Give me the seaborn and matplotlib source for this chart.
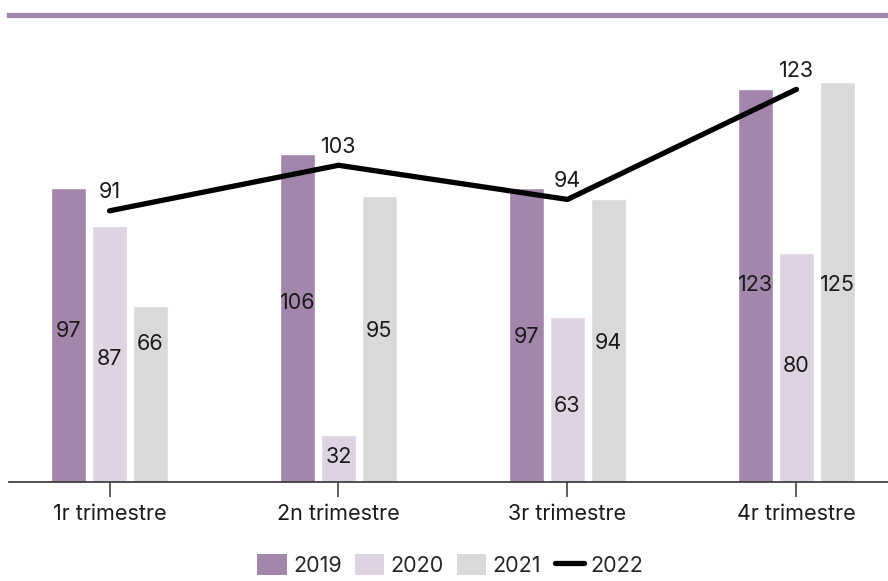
import matplotlib
matplotlib.use("Agg")
import matplotlib.pyplot as plt
import seaborn as sns
import pandas as pd
from matplotlib.patches import Patch
from matplotlib.lines import Line2D

quarters = ["1r trimestre", "2n trimestre", "3r trimestre", "4r trimestre"]
years = ["2019", "2020", "2021"]
v2019 = [97, 106, 97, 123]
v2020 = [87, 32, 63, 80]
v2021 = [66, 95, 94, 125]
v2022 = [91, 103, 94, 123]
colors = ["#a386ab", "#ddd3e2", "#d9d9d9"]

# vertical anchor of each in-bar value label (data units), as placed in the source
label_y = {
    "2019": [59.4, 66.8, 57.9, 71.5],
    "2020": [52.0, 26.2, 39.6, 50.0],
    "2021": [55.9, 59.4, 56.1, 71.5],
}

sns.set_theme(style="white")
plt.rcParams["font.family"] = ["Inter", "DejaVu Sans"]

df = pd.DataFrame({
    "quarter": quarters * 3,
    "year": [y for y in years for _ in quarters],
    "value": v2019 + v2020 + v2021,
})

fig = plt.figure(figsize=(8.88, 5.81), dpi=100)
ax = fig.add_axes([9 / 888, 98.7 / 581, 879 / 888, 467 / 581])

sns.barplot(data=df, x="quarter", y="value", hue="year", order=quarters,
            hue_order=years, palette=colors, width=0.537, gap=0.146,
            saturation=1, legend=False, ax=ax)

for cont, yr in zip(ax.containers, years):
    for bar, ly, v in zip(cont, label_y[yr], df[df.year == yr]["value"]):
        ax.text(bar.get_x() + bar.get_width() / 2, ly, str(v), ha="center",
                va="center", fontsize=15.5, color="#1a1a1a")

line_df = pd.DataFrame({"quarter": quarters, "value": v2022})
sns.lineplot(data=line_df, x="quarter", y="value", color="black",
             linewidth=3.8, solid_capstyle="round", sort=False, ax=ax)
for i, v in enumerate(v2022):
    ax.annotate(str(v), (i, v), xytext=(0, 6), textcoords="offset points",
                ha="center", va="bottom", fontsize=15.5, color="#1a1a1a")

ax.set_xlim(-0.439, 3.40)
ax.set_ylim(19.5, 142.5)
ax.set_xlabel("")
ax.set_ylabel("")
ax.set_yticks([])
for s in ["left", "right"]:
    ax.spines[s].set_visible(False)
ax.spines["top"].set_color("#a386ab")
ax.spines["top"].set_linewidth(3.8)
ax.spines["bottom"].set_color("#333333")
ax.spines["bottom"].set_linewidth(1.2)
ax.tick_params(axis="x", bottom=True, length=11, width=1.1, color="#333333",
               pad=4.5, labelsize=15.5, labelcolor="#1a1a1a")

handles = [Patch(facecolor=c, edgecolor="none", label=y) for c, y in zip(colors, years)]
handles.append(Line2D([0], [0], color="black", linewidth=3.8,
                      solid_capstyle="round", label="2022"))
fig.legend(handles=handles, loc="lower center", bbox_to_anchor=(0.507, -0.024),
           ncol=4, frameon=False, fontsize=15.5, handlelength=1.35,
           handleheight=1.15, handletextpad=0.3, columnspacing=0.62)

fig.savefig("out.png", dpi=100)
